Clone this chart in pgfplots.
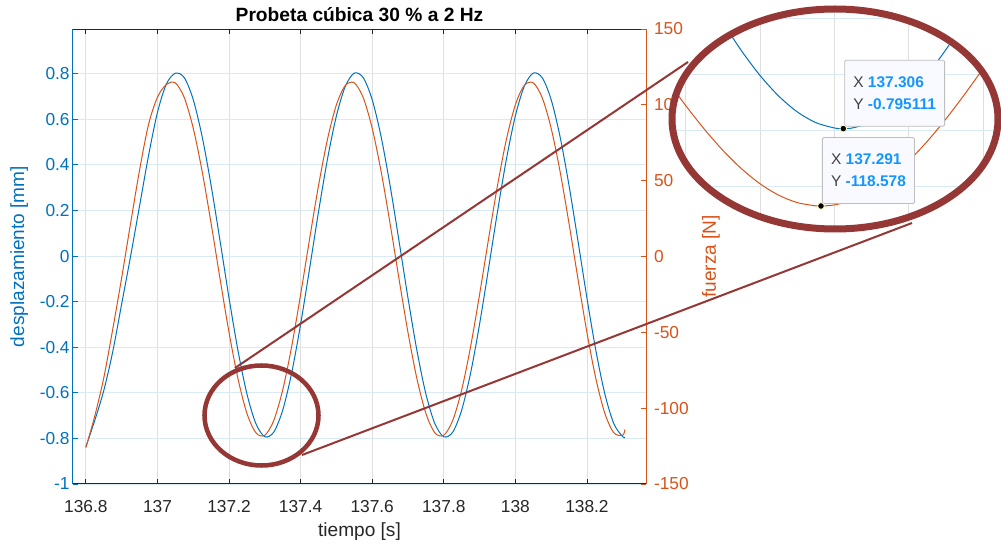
\documentclass[border=0pt]{standalone}
\usepackage{pgfplots}
\usepackage{pgfplotstable}
\pgfplotsset{compat=1.18}
\usepackage{fontspec}
\setmainfont{Liberation Sans}
\definecolor{mblue}{RGB}{0,114,189}
\definecolor{morange}{RGB}{217,83,25}
\definecolor{axgray}{RGB}{38,38,38}
\definecolor{gridgray}{RGB}{223,223,223}
\definecolor{gridblue}{RGB}{217,234,245}
\definecolor{zoomred}{RGB}{149,55,52}
\definecolor{tipblue}{RGB}{20,150,255}
\definecolor{tipgray}{RGB}{64,64,64}
\definecolor{tipborder}{RGB}{190,190,190}
\definecolor{tipfill}{RGB}{249,250,255}
\definecolor{tipedge}{RGB}{255,255,190}
\newcommand\ticksize{\fontsize{13}{15}\selectfont}
\newcommand\labelsize{\fontsize{14.3}{17}\selectfont}
\newcommand\titlefont{\fontsize{14.4}{17}\selectfont\bfseries}
\newcommand\tipfont{\fontsize{11.6}{16.5}\selectfont}

\pgfplotstableread{
t y
136.800 -0.837
136.825 -0.720
136.850 -0.590
136.875 -0.420
136.900 -0.210
136.925 0.000
136.950 0.220
136.975 0.440
137.000 0.630
137.025 0.755
137.050 0.802
137.075 0.7823
137.100 0.6858
137.125 0.5227
137.150 0.3088
137.175 0.0653
137.200 -0.1842
137.225 -0.4151
137.250 -0.6050
137.275 -0.7351
137.300 -0.7927
137.325 -0.7723
137.350 -0.6758
137.375 -0.5127
137.400 -0.2988
137.425 -0.0553
137.450 0.1942
137.475 0.4251
137.500 0.6150
137.525 0.7451
137.550 0.8027
137.575 0.7823
137.600 0.6858
137.625 0.5227
137.650 0.3088
137.675 0.0653
137.700 -0.1842
137.725 -0.4151
137.750 -0.6050
137.775 -0.7351
137.800 -0.7927
137.825 -0.7723
137.850 -0.6758
137.875 -0.5127
137.900 -0.2988
137.925 -0.0553
137.950 0.1942
137.975 0.4251
138.000 0.6150
138.025 0.7451
138.050 0.8027
138.075 0.7823
138.100 0.6858
138.125 0.5227
138.150 0.3088
138.175 0.0653
138.200 -0.1842
138.225 -0.4151
138.250 -0.6050
138.275 -0.7351
138.300 -0.7927
138.306 -0.7950
}\bluedata

\pgfplotstableread{
t y
136.800 -126.0
136.825 -105.0
136.850 -80.0
136.875 -48.0
136.900 -14.0
136.925 22.0
136.950 57.0
136.975 87.0
137.000 105.0
137.025 113.5
137.050 114.45
137.075 104.70
137.100 84.52
137.125 55.90
137.150 21.65
137.175 -14.89
137.200 -50.14
137.225 -80.65
137.250 -103.43
137.275 -116.25
137.300 -117.85
137.325 -108.10
137.350 -87.92
137.375 -59.30
137.400 -25.05
137.425 11.49
137.450 46.74
137.475 77.25
137.500 100.03
137.525 112.85
137.550 114.45
137.575 104.70
137.600 84.52
137.625 55.90
137.650 21.65
137.675 -14.89
137.700 -50.14
137.725 -80.65
137.750 -103.43
137.775 -116.25
137.800 -117.85
137.825 -108.10
137.850 -87.92
137.875 -59.30
137.900 -25.05
137.925 11.49
137.950 46.74
137.975 77.25
138.000 100.03
138.025 112.85
138.050 114.45
138.075 104.70
138.100 84.52
138.125 55.90
138.150 21.65
138.175 -14.89
138.200 -50.14
138.225 -80.65
138.250 -103.43
138.275 -116.25
138.300 -117.85
138.306 -114.0
}\orangedata

\pgfplotstableread{
t y
137.1750 0.0653
137.1875 -0.0603
137.2000 -0.1842
137.2125 -0.3035
137.2250 -0.4151
137.2375 -0.5165
137.2500 -0.6050
137.2625 -0.6784
137.2750 -0.7351
137.2875 -0.7735
137.3000 -0.7927
137.3060 -0.7951
137.3125 -0.7923
137.3250 -0.7723
137.3375 -0.7331
137.3500 -0.6758
137.3625 -0.6017
137.3750 -0.5127
137.3875 -0.4109
137.4000 -0.2988
137.4125 -0.1793
137.4250 -0.0553
}\blueinset

\pgfplotstableread{
t y
137.1750 -14.89
137.1875 -32.90
137.2000 -50.14
137.2125 -66.19
137.2250 -80.65
137.2375 -93.16
137.2500 -103.43
137.2625 -111.19
137.2750 -116.25
137.2875 -118.49
137.2910 -118.58
137.3000 -117.85
137.3125 -114.36
137.3250 -108.10
137.3375 -99.21
137.3500 -87.92
137.3625 -74.51
137.3750 -59.30
137.3875 -42.68
137.4000 -25.05
137.4125 -6.84
137.4250 11.49
}\orangeinset

\begin{document}
\begin{tikzpicture}
\useasboundingbox (0pt,0pt) rectangle (750.75pt,-408.75pt);

% ---------- main axis, left (displacement)
\begin{axis}[
  at={(54.75pt,-363pt)}, anchor=south west,
  width=429.75pt, height=341.25pt, scale only axis,
  clip mode=individual,
  xmin=136.764, xmax=138.365, ymin=-1, ymax=0.996,
  axis x line*=box, axis y line*=left,
  tick align=inside, major tick length=4pt,
  xtick={136.8,137,137.2,137.4,137.6,137.8,138,138.2},
  xticklabels={136.8,137,137.2,137.4,137.6,137.8,138,138.2},
  ytick={-1,-0.8,-0.6,-0.4,-0.2,0,0.2,0.4,0.6,0.8},
  yticklabels={-1,-0.8,-0.6,-0.4,-0.2,0,0.2,0.4,0.6,0.8},
  grid=major,
  x grid style={gridgray, line width=0.6pt},
  y grid style={gridblue, line width=0.6pt},
  x axis line style={axgray, line width=0.75pt},
  y axis line style={mblue, line width=0.75pt},
  xtick style={axgray, line width=0.6pt},
  ytick style={mblue, line width=0.6pt},
  xticklabel style={text=axgray, font=\ticksize, yshift=-8.5pt},
  yticklabel style={text=mblue, font=\ticksize, xshift=1pt},
]
\addplot[mblue, line width=0.75pt, smooth] table[x=t,y=y] {\bluedata};
\node[font=\titlefont, text=black, anchor=base] at (axis description cs:0.5,1.016) {Probeta cúbica 30 \% a 2 Hz};
\node[font=\labelsize, text=axgray, anchor=base] at (axis description cs:0.5,-0.1154) {tiempo [s]};
\node[font=\labelsize, text=mblue, rotate=90] at (axis description cs:-0.0937,0.5) {desplazamiento [mm]};
\end{axis}

% ---------- main axis, right (force)
\begin{axis}[
  at={(54.75pt,-363pt)}, anchor=south west,
  width=429.75pt, height=341.25pt, scale only axis,
  clip mode=individual,
  xmin=136.764, xmax=138.365, ymin=-150, ymax=150,
  axis x line=none, axis y line*=right,
  xtick=\empty,
  tick align=inside, major tick length=4pt,
  ytick={-150,-100,-50,0,50,100,150},
  yticklabels={-150,-100,-50,0,50,100,150},
  y axis line style={morange, line width=0.75pt},
  ytick style={morange, line width=0.6pt},
  yticklabel style={text=morange, font=\ticksize, xshift=2.5pt},
]
\addplot[morange, line width=0.75pt, smooth] table[x=t,y=y] {\orangedata};
\node[font=\labelsize, text=morange, rotate=90] at (axis description cs:1.1134,0.5) {fuerza [N]};
\end{axis}

% ---------- zoom inset
\begin{scope}
\fill[white] (626.25pt,-89.25pt) ellipse [x radius=122.25pt, y radius=82.5pt];
\clip (626.25pt,-89.25pt) ellipse [x radius=122.25pt, y radius=82.5pt];
\begin{axis}[
  at={(500.25pt,-174.75pt)}, anchor=south west,
  width=250.5pt, height=171pt, scale only axis,
  xmin=137.1875, xmax=137.412, ymin=-1.1679, ymax=-0.3536,
  axis line style={draw=none}, tick style={draw=none},
  xtick={137.2,137.25,137.3,137.35,137.4},
  ytick={-1.2,-1,-0.8,-0.6,-0.4},
  xticklabels={}, yticklabels={},
  grid=major,
  x grid style={gridgray, line width=0.6pt},
  y grid style={gridblue, line width=0.6pt},
]
\addplot[mblue, line width=0.75pt, smooth] table[x=t,y=y] {\blueinset};
\end{axis}
\begin{axis}[
  at={(500.25pt,-174.75pt)}, anchor=south west,
  width=250.5pt, height=171pt, scale only axis,
  xmin=137.1875, xmax=137.412, ymin=-136.95, ymax=18.16,
  axis line style={draw=none}, tick style={draw=none},
  xtick=\empty, ytick=\empty,
]
\addplot[morange, line width=0.75pt, smooth] table[x=t,y=y] {\orangeinset};
\node[anchor=south west, xshift=0.75pt, yshift=1.5pt, draw=tipborder, fill=tipfill,
  rounded corners=1pt, inner xsep=6.5pt, inner ysep=12.4pt, align=left, font=\tipfont, line width=0.6pt]
  at (axis cs:137.291,-118.578)
  {{\color{tipgray}X} {\bfseries\color{tipblue}137.291}\\{\color{tipgray}Y} {\bfseries\color{tipblue}-118.578}};
\addplot[only marks, mark=*, mark size=2.5pt, mark options={fill=black, draw=tipedge, line width=0.6pt}]
  coordinates {(137.291,-118.578)};
\end{axis}
\begin{axis}[
  at={(500.25pt,-174.75pt)}, anchor=south west,
  width=250.5pt, height=171pt, scale only axis,
  xmin=137.1875, xmax=137.412, ymin=-1.1679, ymax=-0.3536,
  axis line style={draw=none}, tick style={draw=none},
  xtick=\empty, ytick=\empty,
]
\node[anchor=south west, xshift=0.75pt, yshift=1.5pt, draw=tipborder, fill=tipfill,
  rounded corners=1pt, inner xsep=6.5pt, inner ysep=12.4pt, align=left, font=\tipfont, line width=0.6pt]
  at (axis cs:137.306,-0.795111)
  {{\color{tipgray}X} {\bfseries\color{tipblue}137.306}\\{\color{tipgray}Y} {\bfseries\color{tipblue}-0.795111}};
\addplot[only marks, mark=*, mark size=2.5pt, mark options={fill=black, draw=tipedge, line width=0.6pt}]
  coordinates {(137.306,-0.795111)};
\end{axis}
\end{scope}

% ---------- zoom annotation
\begin{scope}[x=0.75pt, y=-0.75pt]
\draw[zoomred, line width=1.5pt] (235,368) -- (688,62);
\draw[zoomred, line width=1.5pt] (302,455) -- (912,223);
\draw[zoomred, line width=5.25pt] (835,119) ellipse [x radius=122.25pt, y radius=82.5pt];
\draw[zoomred, line width=3.4pt] (261.5,415.5) ellipse [x radius=42.75pt, y radius=37.5pt];
\end{scope}
\end{tikzpicture}
\end{document}
